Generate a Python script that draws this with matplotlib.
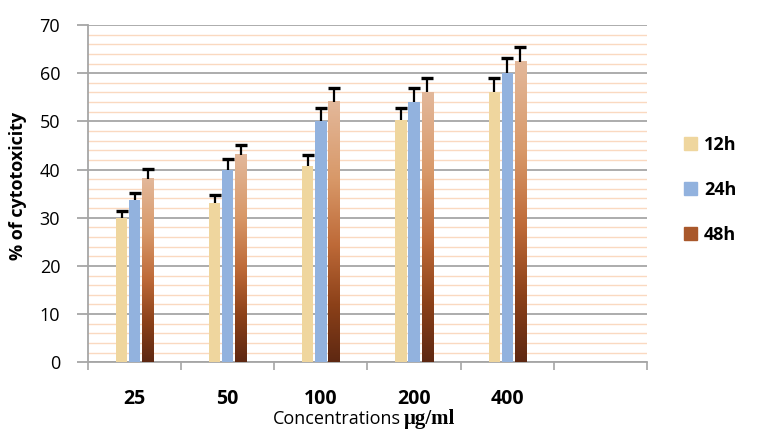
import numpy as np
import matplotlib
matplotlib.use('Agg')
import matplotlib.pyplot as plt
from matplotlib.colors import LinearSegmentedColormap
from matplotlib.patches import Patch

# values
conc = ['25', '50', '100', '200', '400']
h12 = [30.0, 33.0, 40.8, 50.2, 56.0]
h24 = [33.6, 40.0, 50.0, 54.0, 60.0]
h48 = [38.1, 43.1, 54.1, 56.0, 62.4]
err12 = [1.3, 1.8, 2.3, 2.5, 3.0]
err24 = [1.5, 2.2, 2.8, 3.0, 3.1]
err48 = [2.1, 2.1, 2.8, 3.0, 3.0]
labels = ['12h', '24h', '48h']

plt.rcParams['font.family'] = ['Open Sans', 'DejaVu Sans']

c12 = '#EFD69E'
c24 = '#92B2DE'
brown = LinearSegmentedColormap.from_list(
    'brown', [(0.0, '#5E2812'), (0.22, '#8C4119'), (0.45, '#BE6A38'),
              (0.7, '#D89868'), (1.0, '#E3B89A')])

fig = plt.figure(figsize=(7.67, 4.38), dpi=100)
ax = fig.add_axes([88/767, 1-362.3/438, (647-88)/767, (362.3-25)/438])

x = np.arange(len(conc))
w = 0.12
off = 0.14

ax.bar(x - off, h12, w, color=c12, zorder=3)
ax.bar(x, h24, w, color=c24, zorder=3)
grad = np.linspace(0, 1, 256).reshape(-1, 1)
for xi, h in zip(x + off, h48):
    ax.imshow(grad, extent=[xi - w/2, xi + w/2, 0, h], origin='lower',
              aspect='auto', cmap=brown, zorder=3)

# error bars only go up: hide the lower cap
ekw = dict(fmt='none', ecolor='black', elinewidth=1.6, capsize=4.5,
           capthick=2.4, zorder=4)
for xs, hs, es in [(x - off, h12, err12), (x, h24, err24), (x + off, h48, err48)]:
    eb = ax.errorbar(xs, hs, yerr=[np.zeros(len(hs)), es], **ekw)
    eb[1][0].set_visible(False)

ax.set_xlim(-0.5, 5.5)
ax.set_ylim(0, 70)

# grid: gray every 10, light orange every 2
ax.set_yticks(np.arange(0, 71, 10))
ax.set_yticks([v for v in range(2, 70, 2) if v % 10], minor=True)
ax.grid(axis='y', which='major', color='#A6A6A6', linewidth=1.3, zorder=1)
ax.grid(axis='y', which='minor', color='#FAD9C0', linewidth=1.0, zorder=1)
ax.tick_params(axis='y', which='minor', length=0)
ax.tick_params(axis='y', which='major', length=8, color='#A6A6A6',
               width=1.3, pad=12, labelsize=13)

ax.set_xticks(x)
ax.set_xticklabels(conc, fontweight='bold')
ax.set_xticks(np.arange(-0.5, 5.6, 1), minor=True)
ax.tick_params(axis='x', which='major', length=0, pad=19, labelsize=14)
ax.tick_params(axis='x', which='minor', length=6, color='#A6A6A6', width=1.2)

for s in ['top', 'right']:
    ax.spines[s].set_visible(False)
for s in ['left', 'bottom']:
    ax.spines[s].set_color('#A6A6A6')
    ax.spines[s].set_linewidth(1.3)

fig.text(18/767, 1-186/438, '% of cytotoxicity', rotation=90, ha='center',
         va='center', fontsize=13, fontweight='bold')
fig.text(401/767, 1-419/438, 'Concentrations', ha='right', va='center',
         fontsize=13)
fig.text(404/767, 1-419/438, 'μg/ml', ha='left', va='center', fontsize=15,
         fontweight='bold', family=['Liberation Serif', 'DejaVu Serif'])

handles = [Patch(color=c12), Patch(color=c24), Patch(color='#A9582B')]
fig.legend(handles, labels, loc='center left',
           bbox_to_anchor=(668/767, 1-190/438), frameon=False,
           prop={'weight': 'bold', 'size': 13}, handlelength=0.7,
           handleheight=0.7, handletextpad=0.4, labelspacing=1.5)

fig.savefig('out.png', dpi=100)
